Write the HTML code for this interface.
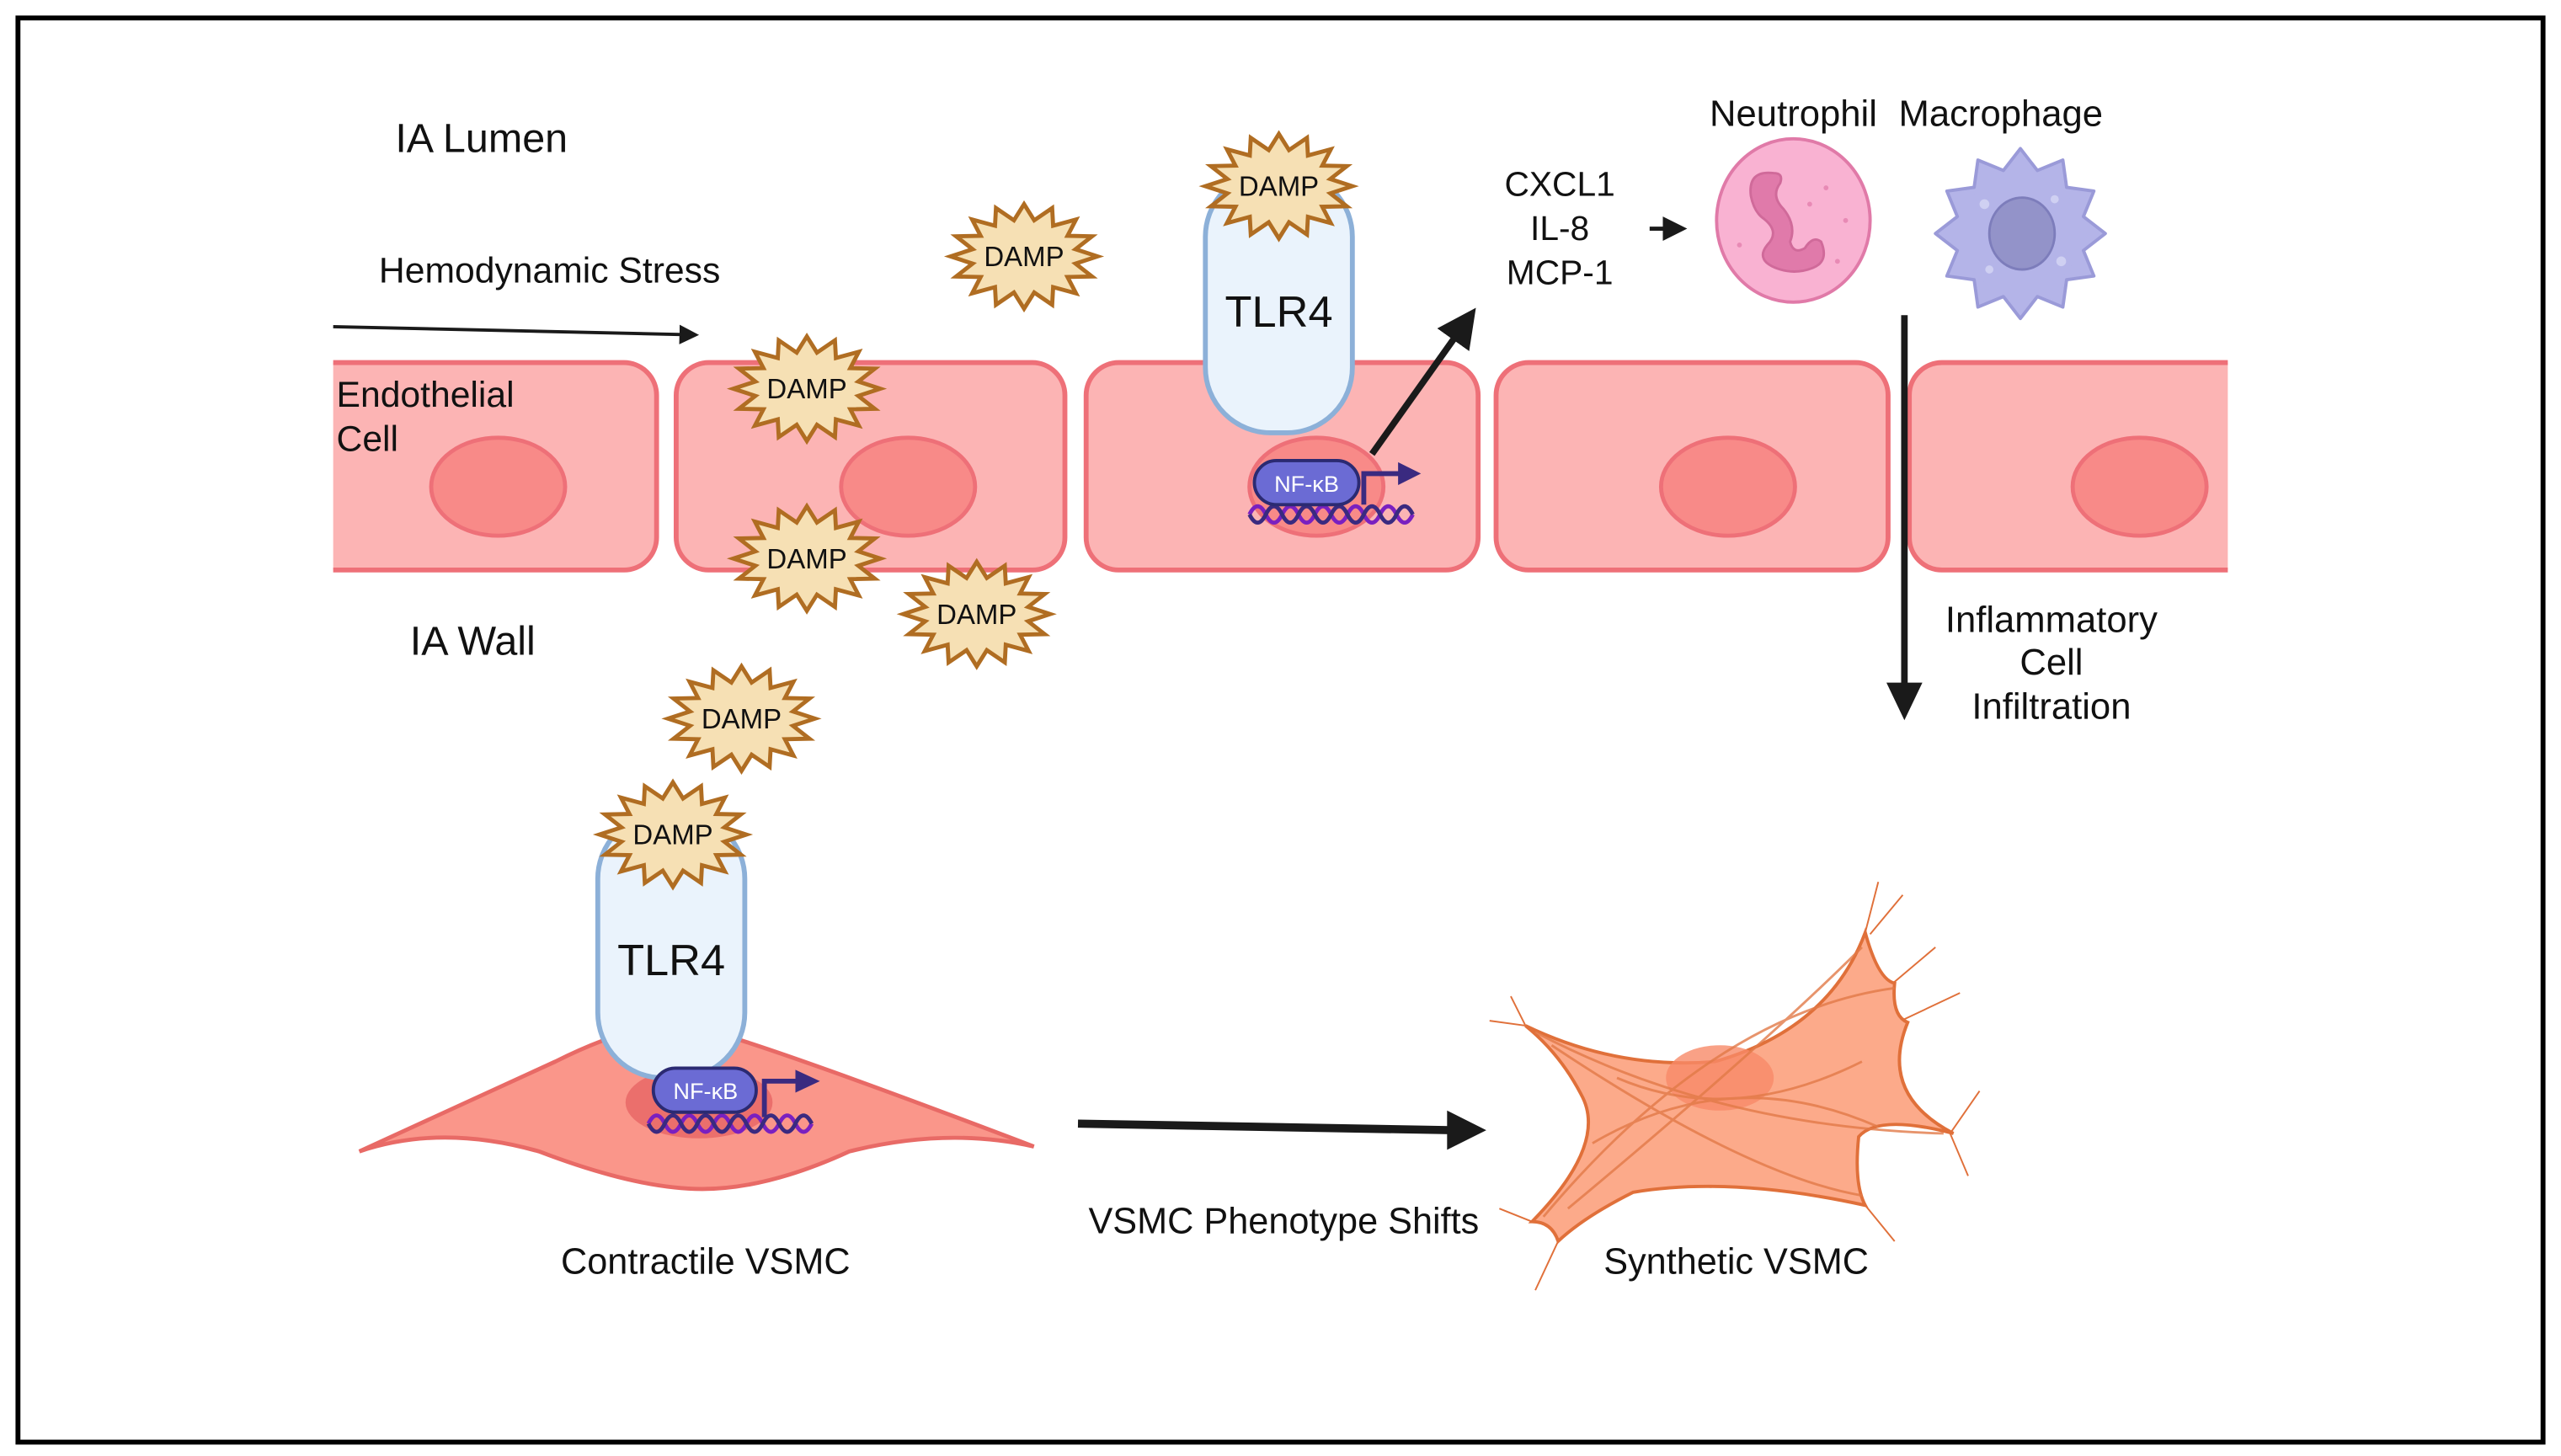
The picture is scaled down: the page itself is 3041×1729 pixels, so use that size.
<!DOCTYPE html>
<html><head><meta charset="utf-8"><style>
html,body{margin:0;padding:0;background:#fff}
svg{display:block}
text{font-family:"Liberation Sans",sans-serif;fill:#111}
</style></head><body>
<svg width="3041" height="1729" viewBox="0 0 1568 891.5" preserveAspectRatio="none" xmlns="http://www.w3.org/2000/svg">
<defs>
<polygon id="star" points="45,0 31.5,4.4 41.6,12.3 26.6,12.6 31.8,22.6 17.8,18.8 17.2,29.6 6.2,22.1 0,32 -6.2,22.1 -17.2,29.6 -17.8,18.8 -31.8,22.6 -26.6,12.6 -41.6,12.3 -31.5,4.4 -45,0 -31.5,-4.4 -41.6,-12.3 -26.6,-12.6 -31.8,-22.6 -17.8,-18.8 -17.2,-29.6 -6.2,-22.1 0,-32 6.2,-22.1 17.2,-29.6 17.8,-18.8 31.8,-22.6 26.6,-12.6 41.6,-12.3 31.5,-4.4" fill="#f6e0b4" stroke="#b06d22" stroke-width="2.5" stroke-linejoin="miter"/>
<clipPath id="band"><rect x="204" y="0" width="1160" height="891"/></clipPath>
<marker id="ah" markerWidth="6" markerHeight="6" refX="4" refY="3" orient="auto" markerUnits="strokeWidth"><path d="M0,0 L6,3 L0,6 z" fill="#1a1a1a"/></marker>
</defs>
<rect x="11" y="11" width="1546" height="872" fill="#fff" stroke="#000" stroke-width="3"/>

<!-- endothelial cells -->
<g clip-path="url(#band)" fill="#fcb4b4" stroke="#ee7078" stroke-width="3">
<rect x="170" y="222" width="232" height="127" rx="20"/>
<rect x="414" y="222" width="238" height="127" rx="20"/>
<rect x="665" y="222" width="240" height="127" rx="20"/>
<rect x="916" y="222" width="240" height="127" rx="20"/>
<rect x="1169" y="222" width="240" height="127" rx="20"/>
</g>
<g fill="#f88a88" stroke="#ee7078" stroke-width="2.5">
<ellipse cx="305" cy="298" rx="41" ry="30"/>
<ellipse cx="556" cy="298" rx="41" ry="30"/>
<ellipse cx="806" cy="298" rx="41" ry="30"/>
<ellipse cx="1058" cy="298" rx="41" ry="30"/>
<ellipse cx="1310" cy="298" rx="41" ry="30"/>
</g>

<!-- TLR4 top -->
<rect x="738" y="105" width="90" height="160" rx="40" fill="#eaf3fc" stroke="#8cb0d8" stroke-width="3"/>
<text x="783" y="200" font-size="27" text-anchor="middle">TLR4</text>

<!-- NF-kB top -->
<path d="M765,315 q5,-10 10,0 t10,0 t10,0 t10,0 t10,0 t10,0 t10,0 t10,0 t10,0 t10,0" fill="none" stroke="#7a20c0" stroke-width="2.5"/>
<path d="M765,315 q5,10 10,0 t10,0 t10,0 t10,0 t10,0 t10,0 t10,0 t10,0 t10,0 t10,0" fill="none" stroke="#3a2a80" stroke-width="2.5"/>
<rect x="768" y="282" width="64" height="27" rx="13.5" fill="#6b6bd4" stroke="#2b2a72" stroke-width="2"/>
<text x="800" y="301" font-size="14" text-anchor="middle" style="fill:#fff">NF-κB</text>
<path d="M835,309 V290 H858" fill="none" stroke="#3a2a80" stroke-width="3"/>
<polygon points="856,283 870,290 856,297" fill="#3a2a80"/>
<line x1="840" y1="278" x2="899" y2="195" stroke="#1a1a1a" stroke-width="4" marker-end="url(#ah)"/>

<!-- DAMPs -->
<g font-size="17" text-anchor="middle">
<use href="#star" x="783" y="114"/><text x="783" y="120">DAMP</text>
<use href="#star" x="627" y="157"/><text x="627" y="163">DAMP</text>
<use href="#star" x="494" y="238"/><text x="494" y="244">DAMP</text>
<use href="#star" x="494" y="342"/><text x="494" y="348">DAMP</text>
<use href="#star" x="598" y="376"/><text x="598" y="382">DAMP</text>
<use href="#star" x="454" y="440"/><text x="454" y="446">DAMP</text>
</g>

<!-- labels top -->
<text x="242" y="93" font-size="25">IA Lumen</text>
<text x="232" y="173" font-size="22">Hemodynamic Stress</text>
<line x1="204" y1="200" x2="424" y2="205" stroke="#1a1a1a" stroke-width="2" marker-end="url(#ah)"/>
<text x="206" y="249" font-size="22">Endothelial</text>
<text x="206" y="276" font-size="22">Cell</text>
<text x="251" y="401" font-size="25">IA Wall</text>

<g font-size="21" text-anchor="middle">
<text x="955" y="120">CXCL1</text>
<text x="955" y="147">IL-8</text>
<text x="955" y="174">MCP-1</text>
</g>
<g font-size="22.5" text-anchor="middle">
<text x="1098" y="77">Neutrophil</text>
<text x="1225" y="77">Macrophage</text>
<text x="1256" y="387">Inflammatory</text>
<text x="1256" y="413">Cell</text>
<text x="1256" y="440">Infiltration</text>
</g>
<line x1="1010" y1="140" x2="1028" y2="140" stroke="#1a1a1a" stroke-width="2.5" marker-end="url(#ah)"/>

<!-- neutrophil -->
<ellipse cx="1098" cy="135" rx="47" ry="50" fill="#f9b2d2" stroke="#e07aa8" stroke-width="2"/>
<path d="M1086,106 Q1070,104 1072,120 Q1074,130 1080,134 Q1090,142 1082,150 Q1074,160 1090,165 Q1100,168 1110,164 Q1120,160 1115,148 Q1110,144 1105,152 Q1098,156 1096,148 Q1100,138 1092,128 Q1084,120 1090,112 Q1092,106 1086,106 Z" fill="#e07aaa" stroke="#d06a9a" stroke-width="1.5"/>
<g fill="#e88ab5"><circle cx="1118" cy="115" r="1.5"/><circle cx="1130" cy="135" r="1.5"/><circle cx="1108" cy="125" r="1.5"/><circle cx="1125" cy="160" r="1.5"/><circle cx="1065" cy="150" r="1.5"/></g>

<!-- macrophage -->
<polygon transform="translate(1237,143)" points="52,0 38.6,10.4 45,26 28.3,28.3 26,45 10.4,38.6 0,52 -10.4,38.6 -26,45 -28.3,28.3 -45,26 -38.6,10.4 -52,0 -38.6,-10.4 -45,-26 -28.3,-28.3 -26,-45 -10.4,-38.6 0,-52 10.4,-38.6 26,-45 28.3,-28.3 45,-26 38.6,-10.4" fill="#b4b4e8" stroke="#9a9ad8" stroke-width="2" stroke-linejoin="round"/>
<circle cx="1237" cy="143" r="37" fill="#b4b4e8"/>
<ellipse cx="1238" cy="143" rx="20" ry="22" fill="#9393c9" stroke="#7d7dbb" stroke-width="1.5"/>
<g fill="#cfd0f2"><circle cx="1215" cy="125" r="3"/><circle cx="1262" cy="160" r="3"/><circle cx="1258" cy="122" r="2.5"/><circle cx="1218" cy="165" r="2.5"/></g>

<line x1="1166" y1="193" x2="1166" y2="420" stroke="#1a1a1a" stroke-width="4"/>
<polygon points="1155,418 1177,418 1166,441" fill="#1a1a1a"/>

<!-- contractile VSMC -->
<path d="M220,705 L340,650 Q400,620 430,630 Q470,640 633,702 Q580,690 520,705 Q470,728 430,728 Q390,728 330,705 Q270,688 220,705 Z" fill="#fa968a" stroke="#e86a66" stroke-width="2.5"/>
<ellipse cx="428" cy="675" rx="45" ry="22" fill="#eb6f6c"/>
<rect x="366" y="498" width="90" height="162" rx="40" fill="#eaf3fc" stroke="#8cb0d8" stroke-width="3"/>
<text x="411" y="597" font-size="27" text-anchor="middle">TLR4</text>
<path d="M397,688 q5,-10 10,0 t10,0 t10,0 t10,0 t10,0 t10,0 t10,0 t10,0 t10,0 t10,0" fill="none" stroke="#7a20c0" stroke-width="2.5"/>
<path d="M397,688 q5,10 10,0 t10,0 t10,0 t10,0 t10,0 t10,0 t10,0 t10,0 t10,0 t10,0" fill="none" stroke="#3a2a80" stroke-width="2.5"/>
<rect x="400" y="654" width="63" height="27" rx="13.5" fill="#6b6bd4" stroke="#2b2a72" stroke-width="2"/>
<text x="432" y="673" font-size="14" text-anchor="middle" style="fill:#fff">NF-κB</text>
<path d="M468,684 V662 H489" fill="none" stroke="#3a2a80" stroke-width="3"/>
<polygon points="487,655 502,662 487,669" fill="#3a2a80"/>
<use href="#star" x="412" y="511"/><text x="412" y="517" font-size="17" text-anchor="middle">DAMP</text>

<!-- phenotype arrow -->
<line x1="660" y1="688" x2="888" y2="692" stroke="#1a1a1a" stroke-width="5"/>
<polygon points="886,680 910,692 886,704" fill="#1a1a1a"/>

<!-- synthetic VSMC -->
<path d="M934,628 Q990,655 1050,650 Q1120,630 1142,571 Q1150,600 1160,602 Q1158,622 1168,626 Q1150,670 1196,694 Q1150,682 1138,696 Q1135,725 1142,738 Q1060,720 1000,730 Q970,745 954,760 Q950,748 938,748 Q985,700 968,670 Q955,645 934,628 Z" fill="#fcaa8a" stroke="#e0703a" stroke-width="2"/>
<ellipse cx="1053" cy="660" rx="33" ry="20" fill="#f78a68" opacity="0.8"/>
<g fill="none" stroke="#e27a48" stroke-width="1.5" opacity="0.8">
<path d="M940,632 Q1050,690 1190,694"/><path d="M950,640 Q1070,720 1140,732"/><path d="M945,745 Q1050,620 1160,605"/><path d="M960,740 Q1080,640 1140,580"/><path d="M990,660 Q1060,690 1140,650"/><path d="M975,700 Q1060,650 1150,690"/>
</g>
<g stroke="#e0703a" stroke-width="1" fill="none">
<path d="M1142,571 L1150,540 M1145,572 L1165,548 M1159,602 L1185,580 M1166,624 L1200,608 M1194,694 L1212,668 M1194,694 L1205,720 M1142,738 L1160,760 M954,760 L940,790 M938,748 L918,740 M934,628 L912,625 M934,628 L925,610"/>
</g>

<g font-size="22.3" text-anchor="middle">
<text x="432" y="780">Contractile VSMC</text>
<text x="786" y="755">VSMC Phenotype Shifts</text>
<text x="1063" y="780">Synthetic VSMC</text>
</g>
</svg>
</body></html>
